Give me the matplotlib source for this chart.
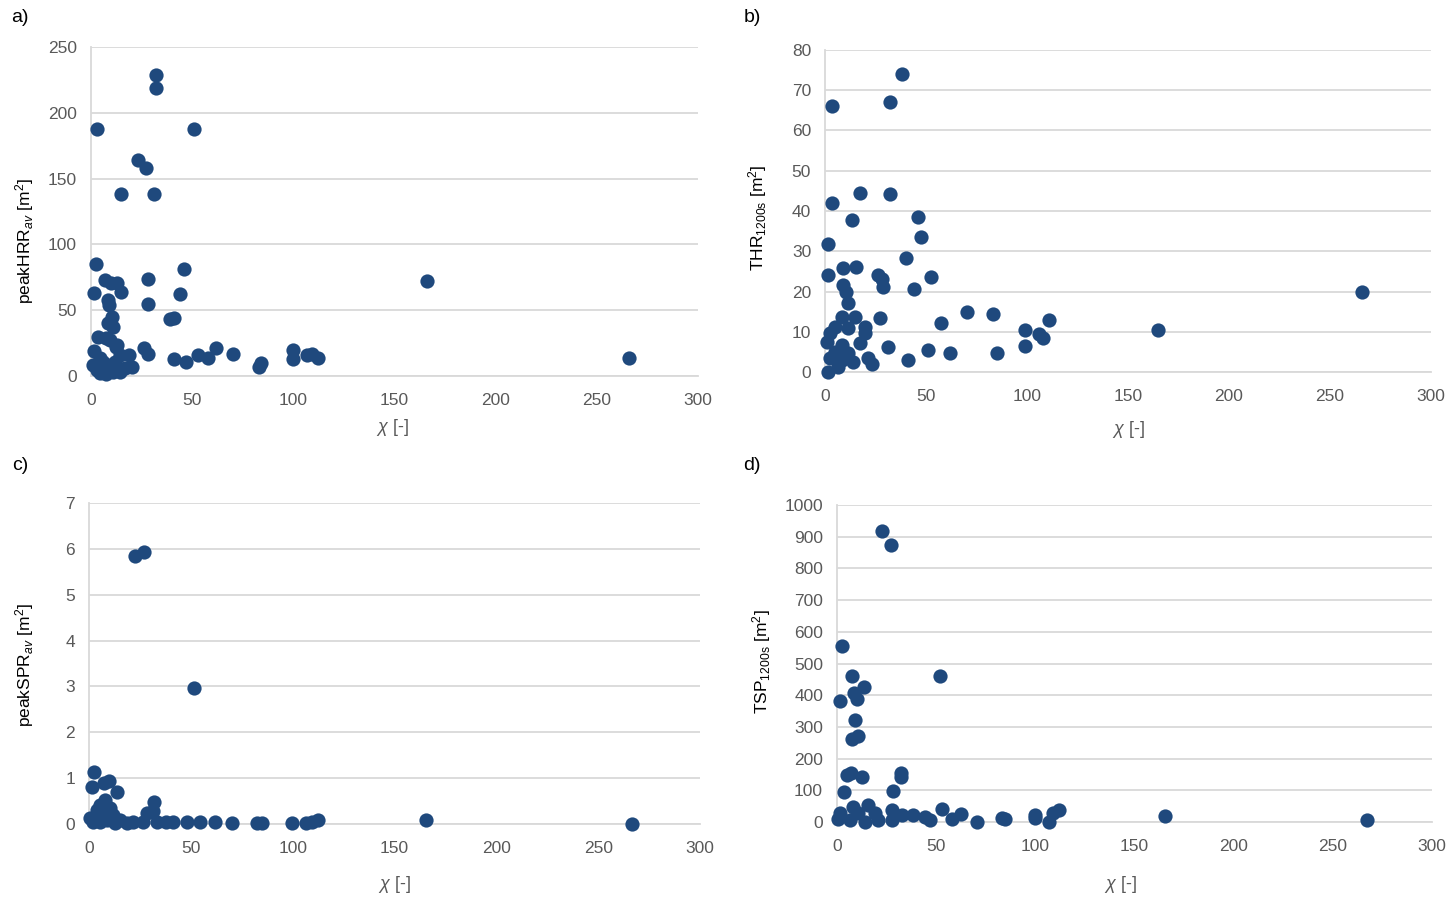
import matplotlib
matplotlib.use("Agg")
import matplotlib.pyplot as plt

plt.rcParams['font.family'] = ['Liberation Sans', 'DejaVu Sans']
plt.rcParams['mathtext.fontset'] = 'custom'
plt.rcParams['mathtext.rm'] = 'Liberation Sans'
plt.rcParams['mathtext.it'] = 'Liberation Sans:italic'

# --- a) peak HRR ---
chi_a = [3, 32, 32, 51, 23, 27, 15, 31, 2.5, 1.5, 7, 10, 13, 15, 8.5, 9, 28, 28, 46, 44,
         39, 41, 10.4, 10.9, 8.4, 3.5, 7.5, 1.5, 12.5, 19, 26, 28, 41, 47, 53, 58, 62, 70,
         83, 84, 100, 100, 107, 109, 112, 166, 266,
         1, 4.4, 10.9, 14.3, 7.9, 4.4, 14.3, 20.3, 9.4, 12.9, 5.9, 11.9, 16.8, 3, 7.4]
hrr = [188, 229, 219, 188, 164, 158, 138, 138, 85, 63, 73, 71, 71, 64, 58, 54, 74, 55, 81, 62,
       43, 44, 45, 37, 40, 30, 29, 19, 22, 16, 21, 17, 13, 11, 16, 14, 21, 17,
       7, 10, 20, 13, 16, 17, 14, 72, 14,
       8.4, 2.3, 3, 3, 8.4, 13.7, 16, 6.8, 27, 23.6, 10.6, 10.6, 6, 4.6, 1.5]

# --- b) THR 1200 s ---
chi_b = [3.5, 32, 38, 3.5, 17.3, 32.2, 13.4, 46, 47.5, 1.5, 40, 1.5, 8.9, 15.3, 26.2, 28.2,
         28.7, 8.9, 10.4, 52.5, 44, 11.4, 8.4, 14.9, 27.2, 70.3, 57.4, 19.8, 19.8, 2.5, 5,
         11.4, 1, 17.3, 31.2, 51, 61.9, 41.1, 21.3, 23.3, 13.9, 2.5, 6.4, 1.5, 8.4, 5, 11.4,
         8.4, 83, 85, 99, 99, 106, 108, 111, 165, 266]
thr = [66, 67, 74, 42, 44.5, 44.2, 37.8, 38.5, 33.5, 31.8, 28.3, 24, 25.8, 26.1, 24.1, 23.1,
       21.1, 21.6, 19.9, 23.6, 20.6, 17.1, 13.7, 13.7, 13.4, 14.9, 12.2, 11.2, 9.7, 9.7, 11.2,
       10.9, 7.5, 7.2, 6.2, 5.5, 4.7, 3, 3.5, 2, 2.5, 3.5, 1.2, 0, 6.7, 5, 4.7,
       3, 14.5, 4.8, 10.5, 6.5, 9.5, 8.5, 13, 10.5, 20]

# --- c) peak SPR ---
chi_c = [22.6, 27, 51.5, 2.5, 1.5, 9.8, 7.4, 13.7, 31.9, 28.5, 31.4, 7.9, 5.4, 3.9, 10.3,
         5.4, 11.8, 2, 8.8, 15.2, 21.6, 26.5, 33.4, 41.2, 48.1, 54.5, 61.9, 70.2, 82.5, 85,
         99.7, 106.5, 109.5, 112.4, 165.4, 266.6, 37.8, 5.4, 12.8, 18.7, 0.5]
spr = [5.85, 5.93, 2.97, 1.13, 0.81, 0.94, 0.89, 0.70, 0.48, 0.24, 0.28, 0.52, 0.41, 0.31, 0.35,
       0.2, 0.2, 0.04, 0.09, 0.09, 0.04, 0.04, 0.04, 0.04, 0.04, 0.04, 0.04, 0.02, 0.02, 0.02,
       0.02, 0.02, 0.04, 0.08, 0.08, 0.0, 0.04, 0.04, 0.02, 0.02, 0.13]

# --- d) TSP 1200 s ---
chi_d = [22.7, 27, 2.5, 7.6, 13.6, 8.6, 10.1, 1.5, 52, 9.1, 7.6, 10.6, 5, 7.1, 12.6, 3.5, 28.2,
         32.3, 32.3, 8.1, 15.6, 27.7, 1.5, 53, 62.5, 38.3, 44.4, 46.9, 58, 70.6, 83.2, 84.7,
         20.7, 14.1, 6.6, 0.5, 32.8, 27.7, 10.6, 19.2, 100, 100, 107, 109, 112, 165.5, 267]
tsp = [918, 874, 555, 461, 426, 407, 388, 382, 461, 322, 262, 271, 148, 155, 142, 95, 98,
       155, 142, 47, 54, 38, 28, 41, 25, 22, 16, 6, 9, 0, 13, 9,
       6, 0, 6, 9, 22, 6, 28, 28, 22, 13, 0, 28, 38, 19, 6]

panels = [
    ("a)", chi_a, hrr, r'peakHRR$_{av}$ [m$^2$]', 250, 50),
    ("b)", chi_b, thr, r'THR$_{\mathrm{1200s}}$ [m$^2$]', 80, 10),
    ("c)", chi_c, spr, r'peakSPR$_{av}$ [m$^2$]', 7, 1),
    ("d)", chi_d, tsp, r'TSP$_{\mathrm{1200s}}$ [m$^2$]', 1000, 100),
]

# axes rectangles in pixels: left, right, bottom, top
boxes = [(91, 698, 376, 47), (825, 1431, 372, 50), (89, 700, 824, 503), (837, 1432, 822, 505)]
ylab_pos = [(-0.109, 0.41), (-0.112, 0.48), (-0.105, 0.495), (-0.126, 0.505)]
xlab_pos = [(0.496, -0.158), (0.5, -0.18), (0.5, -0.187), (0.476, -0.196)]
tag_pos = [(20, 18), (752, 18), (20, 466), (752, 466)]

W, H = 1452, 898
fig = plt.figure(figsize=(W / 100, H / 100), dpi=100)
dot = '#1F497D'
grid_c = '#d9d9d9'
tick_c = '#595959'

for i, (tag, xs, ys, ylab, ymax, ystep) in enumerate(panels):
    l, r, b, t = boxes[i]
    ax = fig.add_axes([l / W, 1 - b / H, (r - l) / W, (b - t) / H])
    ax.scatter(xs, ys, s=105, color=dot, zorder=3, linewidths=0, clip_on=False)
    ax.set_xlim(0, 300)
    ax.set_ylim(0, ymax)
    ax.set_xticks(range(0, 301, 50))
    ax.set_yticks([k * ystep for k in range(int(round(ymax / ystep)) + 1)])
    ax.grid(axis='y', color=grid_c, linewidth=1.3)
    ax.set_axisbelow(True)
    for s in ['top', 'right']:
        ax.spines[s].set_visible(False)
    for s in ['left', 'bottom']:
        ax.spines[s].set_color(grid_c)
        ax.spines[s].set_linewidth(1.3)
    ax.tick_params(length=0, labelsize=12.5, colors=tick_c, pad=10)
    ax.tick_params(axis='x', pad=12)
    ax.text(*ylab_pos[i], ylab, rotation=90, transform=ax.transAxes,
            ha='center', va='center', fontsize=12.5)
    ax.text(*xlab_pos[i], r'$\chi$ [-]', transform=ax.transAxes,
            ha='center', va='center', fontsize=13, color=tick_c)
    fig.text(tag_pos[i][0] / W, 1 - tag_pos[i][1] / H, tag, ha='center', va='center', fontsize=14)

fig.savefig('out.png', dpi=100)
